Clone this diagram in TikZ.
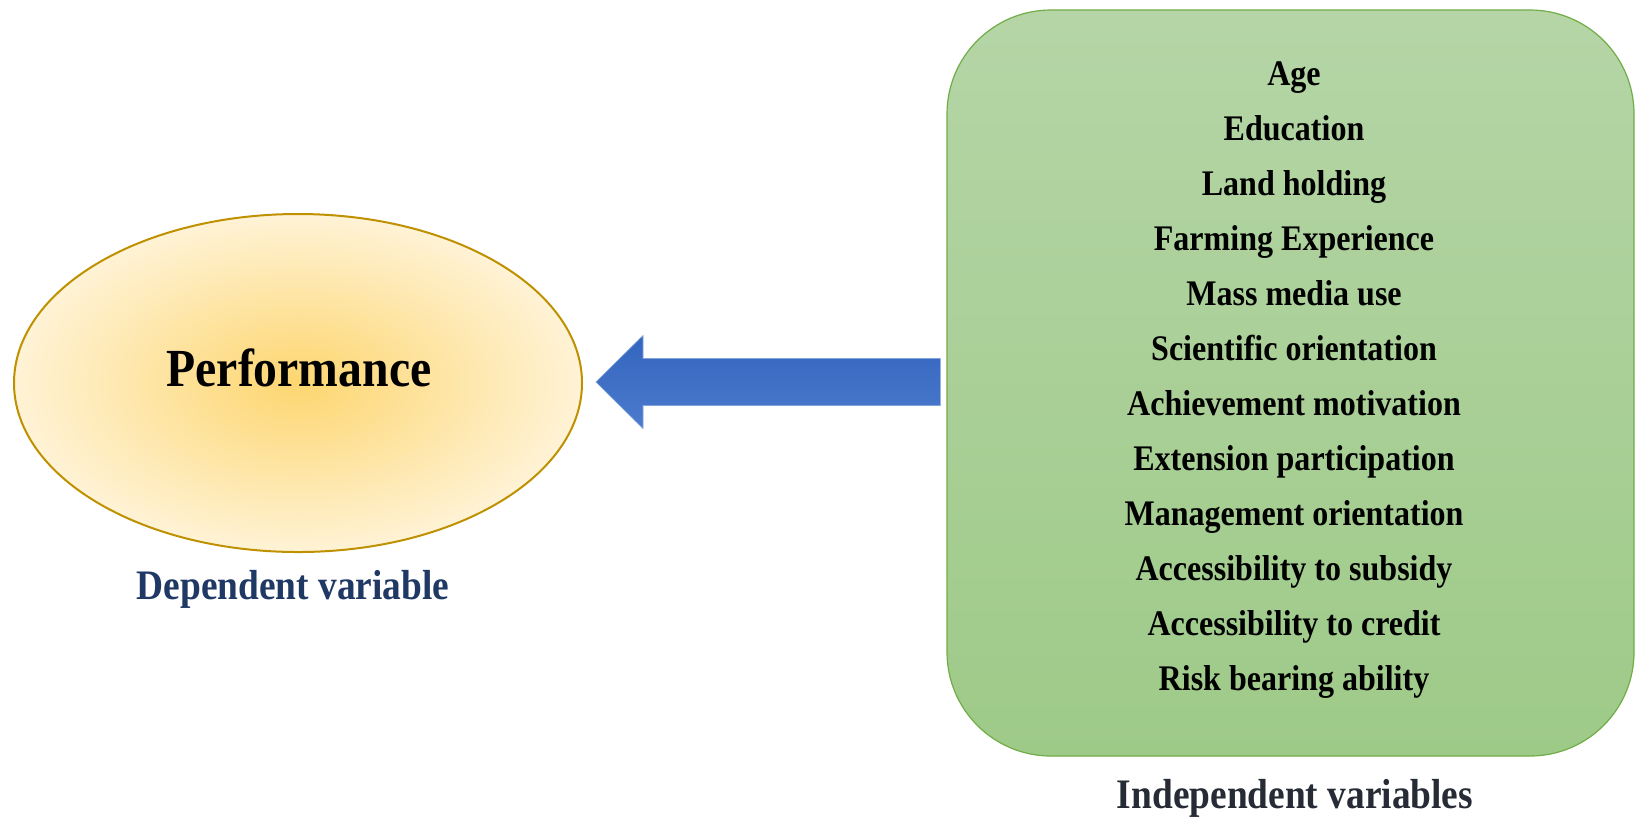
\documentclass[tikz,border=0pt]{standalone}
\usepackage{fontspec}
\setmainfont{Liberation Serif}[FakeStretch=0.89]
\usetikzlibrary{shapes.geometric,calc}
\definecolor{ellborder}{HTML}{BF9000}
\definecolor{ellin}{HTML}{FDD670}
\definecolor{ellout}{HTML}{FFF3D6}
\definecolor{boxtop}{HTML}{B5D5A6}
\definecolor{boxbot}{HTML}{9ECA88}
\definecolor{boxborder}{HTML}{70AD47}
\definecolor{arrtop}{HTML}{3465BF}
\definecolor{arrbot}{HTML}{4B7BCC}
\definecolor{navy}{HTML}{1F3864}
\definecolor{darkgray}{HTML}{262B35}
\tikzset{
  itemtext/.style={anchor=base, inner sep=0pt, font=\fontsize{18pt}{20pt}\selectfont\bfseries},
  captext/.style={anchor=base, inner sep=0pt, font=\fontsize{21pt}{24pt}\selectfont\bfseries},
}
\begin{document}
\begin{tikzpicture}[x=0.5pt,y=-0.5pt]
\useasboundingbox (0,0) rectangle (1636,816);
% dependent ellipse
\node[ellipse, draw=ellborder, line width=1pt, inner color=ellin, outer color=ellout,
      minimum width=284pt, minimum height=169pt, inner sep=0pt] (perf) at (298,383) {};
\node[anchor=base, inner sep=0pt, font=\fontsize{26.8pt}{30pt}\selectfont\bfseries] (perftext) at (299,386) {Performance};
\node[captext, text=navy] (dep) at (293,599) {Dependent variable};
% independent box
\node[rectangle, rounded corners=52pt, draw=boxborder, line width=0.6pt,
      top color=boxtop, bottom color=boxbot,
      minimum width=343.5pt, minimum height=373pt, inner sep=0pt] (box) at (1290.5,383) {};
\foreach \t [count=\i from 0] in {Age,Education,Land holding,Farming Experience,Mass media use,Scientific orientation,Achievement motivation,Extension participation,Management orientation,Accessibility to subsidy,Accessibility to credit,Risk bearing ability}{
  \node[itemtext] (v\i) at (1294,85.6+55*\i) {\t};
}
\node[captext, text=darkgray] (indep) at (1295,808.6) {Independent variables};
% block arrow from box to ellipse
\coordinate (tip) at ([xshift=6.5pt,yshift=0.5pt]perf.east);
\coordinate (tail) at ([xshift=-3pt,yshift=0.5pt]box.west);
\shade[top color=arrtop, bottom color=arrbot, draw=arrbot!70!white, line width=0.3pt]
  (tip) -- ([xshift=23.5pt,yshift=23.25pt]tip) -- ([xshift=23.5pt,yshift=11.75pt]tip)
  -- ([yshift=11.75pt]tail) -- ([yshift=-11.75pt]tail)
  -- ([xshift=23.5pt,yshift=-11.75pt]tip) -- ([xshift=23.5pt,yshift=-23.25pt]tip) -- cycle;
\end{tikzpicture}
\end{document}
